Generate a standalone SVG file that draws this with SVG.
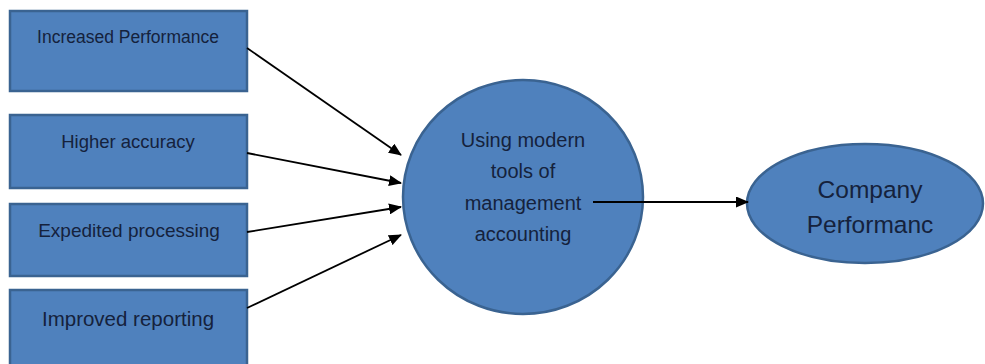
<svg xmlns="http://www.w3.org/2000/svg" width="985" height="364" viewBox="0 0 985 364">
<style>
.box{fill:#4f81bd;stroke:#3a6391;stroke-width:2.5}
.lbl{font-family:"Liberation Sans",Arial,sans-serif;fill:#15223c;text-anchor:middle}
.con{stroke:#000;stroke-width:1.8;fill:none;marker-end:url(#ah)}
</style>
<defs>
<marker id="ah" markerWidth="13" markerHeight="11" refX="12" refY="5.5" orient="auto" markerUnits="userSpaceOnUse">
<path d="M0,0 L13,5.5 L0,11 Z" fill="#000"/>
</marker>
</defs>
<rect width="985" height="364" fill="#fff"/>
<g id="n1"><rect class="box" x="10" y="11" width="237" height="80"/><text class="lbl" x="128" y="43" font-size="17.5">Increased Performance</text></g>
<g id="n2"><rect class="box" x="10" y="115" width="237" height="73"/><text class="lbl" x="128" y="148" font-size="18.5">Higher accuracy</text></g>
<g id="n3"><rect class="box" x="10" y="204" width="237" height="72"/><text class="lbl" x="129" y="237" font-size="19">Expedited processing</text></g>
<g id="n4"><rect class="box" x="10" y="290" width="237" height="90"/><text class="lbl" x="128" y="326" font-size="20.5">Improved reporting</text></g>
<g id="n5"><ellipse cx="523" cy="197" rx="120" ry="117" fill="#4f81bd" stroke="#3a6391" stroke-width="2.5"/>
<text class="lbl" x="523" font-size="20"><tspan x="523" y="147">Using modern</tspan><tspan x="523" y="178">tools of</tspan><tspan x="523" y="210">management</tspan><tspan x="523" y="241">accounting</tspan></text></g>
<g id="n6"><ellipse cx="865" cy="203.5" rx="118" ry="59.5" fill="#4f81bd" stroke="#3a6391" stroke-width="2.5"/>
<text class="lbl" font-size="24.5"><tspan x="870" y="198">Company</tspan><tspan x="870" y="233">Performanc</tspan></text></g>
<g id="connectors">
<line class="con" x1="247" y1="48" x2="401" y2="155"/>
<line class="con" x1="247" y1="153" x2="401" y2="183"/>
<line class="con" x1="247" y1="232" x2="401" y2="207"/>
<line class="con" x1="247" y1="308" x2="401" y2="235"/>
<line class="con" x1="593" y1="202" x2="748" y2="202"/>
</g>
</svg>
